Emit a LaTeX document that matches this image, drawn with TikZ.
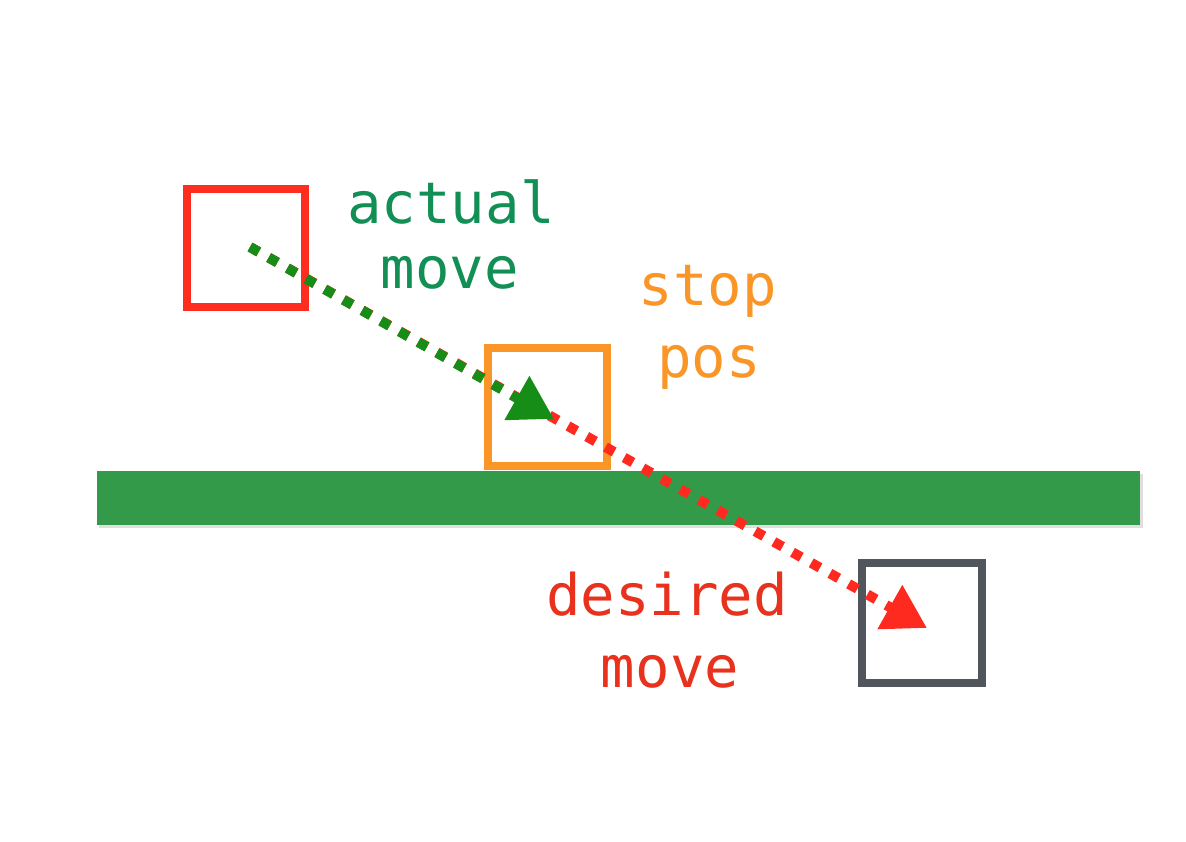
\documentclass[tikz,border=0pt]{standalone}
\usepackage{fontspec}
\newfontfamily\monofam{DejaVu Sans Mono}
\usetikzlibrary{arrows.meta}
\definecolor{cgreenbar}{HTML}{339A4A}
\definecolor{cgreentext}{HTML}{128F55}
\definecolor{corange}{HTML}{FA9528}
\definecolor{credtext}{HTML}{E8321E}
\definecolor{credbox}{HTML}{FF2D20}
\definecolor{cgray}{HTML}{51555C}
\definecolor{cgreenarrow}{HTML}{158D17}
\definecolor{credarrow}{HTML}{FF2A1F}
\tikzset{
  box/.style={draw, line width=6pt, minimum size=89pt, inner sep=0pt, fill=none},
  lbl/.style={font=\monofam\fontsize{43pt}{43pt}\selectfont, anchor=base, inner sep=0pt},
  movedash/.style={line width=7.5pt, dash pattern=on 7.5pt off 8.6pt},
}
\begin{document}
\begin{tikzpicture}[x=0.75pt, y=-0.75pt]
\useasboundingbox (0,0) rectangle (1186,842);
% wall
\fill[black!25, opacity=0.5] (99,474) rectangle (1143,528);
\node[fill=cgreenbar, inner sep=0pt, minimum width=782.25pt, minimum height=40.5pt] (wall) at (618.5,498) {};
% boxes
\node[box, draw=credbox] (startbox) at (246,248) {};
\node[box, draw=corange] (stopbox) at (547.5,407) {};
\node[box, draw=cgray, minimum size=90.5pt] (goalbox) at (922,623) {};
% connectors
\coordinate (s) at (250,247);
\coordinate (gtip) at (554,419);
\coordinate (rtip) at (927,628);
\draw[movedash, draw=credarrow, arrows={-{Triangle[length=32pt, width=36pt, fill=credarrow, sep=0pt]}}] (s) -- (rtip);
\draw[movedash, draw=cgreenarrow, arrows={-{Triangle[length=32pt, width=36pt, fill=cgreenarrow]}}] (s) -- (gtip);
% labels
\node[lbl, text=cgreentext] (actual1) at (451,223) {actual};
\node[lbl, text=cgreentext] (actual2) at (450,288) {move};
\node[lbl, text=corange] (stop1) at (708,305) {stop};
\node[lbl, text=corange] (stop2) at (709,377) {pos};
\node[lbl, text=credtext] (des1) at (667,615) {desired};
\node[lbl, text=credtext] (des2) at (670,687) {move};
\end{tikzpicture}
\end{document}
